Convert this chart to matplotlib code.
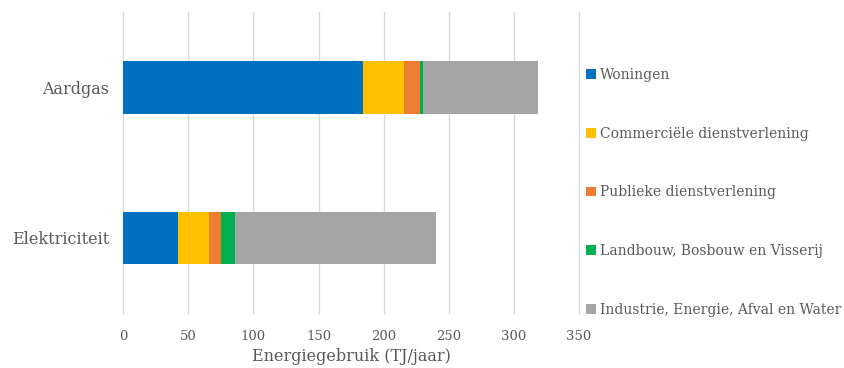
import matplotlib.pyplot as plt
from matplotlib.patches import Patch

# data (TJ/jaar)
categories = ["Aardgas", "Elektriciteit"]
sectors = [
    "Woningen",
    "Commerciële dienstverlening",
    "Publieke dienstverlening",
    "Landbouw, Bosbouw en Visserij",
    "Industrie, Energie, Afval en Water",
]
woningen = [184, 42]
commercieel = [32, 24]
publiek = [12, 9]
landbouw = [2, 10.5]
industrie = [88.5, 155]
colors = ["#0070C0", "#FFC000", "#ED7D31", "#00B050", "#A5A5A5"]

series = [woningen, commercieel, publiek, landbouw, industrie]
text_color = "#595959"

plt.rcParams["font.family"] = ["DejaVu Serif"]

fig = plt.figure(figsize=(8.45, 3.68), dpi=100)
ax = fig.add_axes([0.146, 0.149, 0.539, 0.818])

y = list(range(len(categories)))
left = [0.0] * len(categories)
for vals, col in zip(series, colors):
    ax.barh(y, vals, left=left, height=0.35, color=col, zorder=3)
    left = [a + b for a, b in zip(left, vals)]

ax.set_xlim(0, 350)
ax.set_ylim(1.5, -0.5)
ax.set_xticks(range(0, 351, 50))
ax.set_yticks(y)
ax.set_yticklabels(categories, fontsize=11.5, color=text_color)
ax.tick_params(axis="x", length=0, pad=12, labelsize=9.5, labelcolor=text_color)
ax.tick_params(axis="y", length=0, pad=10)
ax.grid(axis="x", color="#D9D9D9", linewidth=1, zorder=0)
for line in ax.get_xgridlines():
    line.set_clip_on(False)
for s in ax.spines.values():
    s.set_visible(False)
ax.set_xlabel("Energiegebruik (TJ/jaar)", fontsize=11.5, color=text_color, labelpad=4)

handles = [Patch(facecolor=c, edgecolor="none") for c in colors]
fig.legend(handles, sectors, loc="center left", bbox_to_anchor=(0.689, 0.477),
           frameon=False, fontsize=10, labelcolor=text_color,
           handlelength=0.7, handleheight=0.7, handletextpad=0.3,
           labelspacing=3.22, borderaxespad=0, borderpad=0.3)

fig.savefig("out.png", dpi=100)
